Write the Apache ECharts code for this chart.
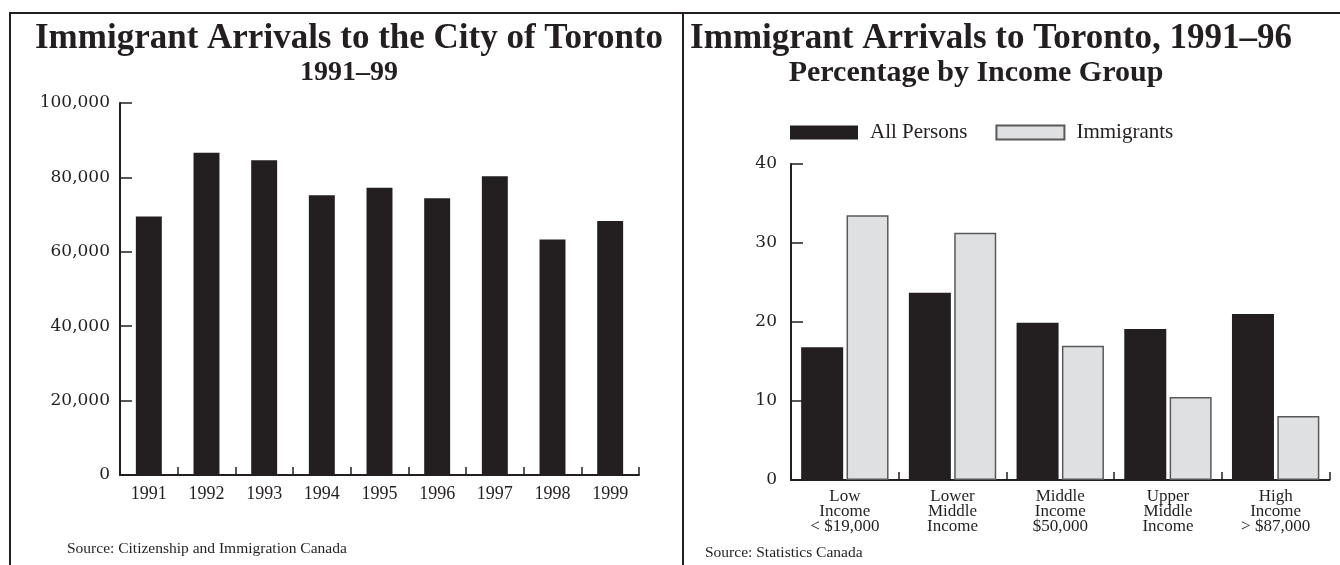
<!DOCTYPE html>
<html>
<head>
<meta charset="utf-8">
<script src="https://cdn.jsdelivr.net/npm/echarts@6/dist/echarts.min.js"></script>
<style>
html,body{margin:0;padding:0;background:#fff;}
#c{width:1340px;height:565px;}
</style>
</head>
<body>
<div id="c"></div>
<script>
// Left chart data
const years = ['1991','1992','1993','1994','1995','1996','1997','1998','1999'];
const arrivals = [69500, 86600, 84600, 75200, 77200, 74400, 80300, 63300, 68300];
const leftTicks = {min: 0, max: 100000, interval: 20000};

// Right chart data
const incomeGroups = ['Low\nIncome\n< $19,000', 'Lower\nMiddle\nIncome', 'Middle\nIncome\n$50,000', 'Upper\nMiddle\nIncome', 'High\nIncome\n> $87,000'];
const allPersons = [16.8, 23.7, 19.9, 19.1, 21.0];
const immigrants = [33.5, 31.3, 17.0, 10.5, 8.1];
const rightTicks = {min: 0, max: 40, interval: 10};

const INK = '#231f20';
const LIGHT = '#dfe0e2';
const SERIF = '"Liberation Serif", serif';
const WIDE = '"DejaVu Serif", serif';

const chart = echarts.init(document.getElementById('c'), null, {renderer: 'canvas'});

const axisLine = {show: true, lineStyle: {color: INK, width: 2}};
const axisTickY = {show: true, inside: true, length: 12, lineStyle: {color: INK, width: 1.5}};
const axisTickX = {show: true, inside: true, length: 8, alignWithLabel: false, lineStyle: {color: INK, width: 1.5}};

chart.setOption({
  animation: false,
  backgroundColor: '#fff',
  title: [
    {text: 'Immigrant Arrivals to the City of Toronto', left: 349, top: 21, padding: 0, textAlign: 'center',
     textStyle: {fontFamily: SERIF, fontWeight: 'bold', fontSize: 35, color: INK}},
    {text: '1991–99', left: 349, top: 59, padding: 0, textAlign: 'center',
     textStyle: {fontFamily: SERIF, fontWeight: 'bold', fontSize: 28, color: INK}},
    {text: 'Immigrant Arrivals to Toronto, 1991–96', left: 991, top: 21, padding: 0, textAlign: 'center',
     textStyle: {fontFamily: SERIF, fontWeight: 'bold', fontSize: 35, color: INK}},
    {text: 'Percentage by Income Group', left: 976, top: 58, padding: 0, textAlign: 'center',
     textStyle: {fontFamily: SERIF, fontWeight: 'bold', fontSize: 30, color: INK}},
    {text: 'Source: Citizenship and Immigration Canada', left: 67, top: 541, padding: 0,
     textStyle: {fontFamily: SERIF, fontWeight: 'normal', fontSize: 15.5, color: INK}},
    {text: 'Source: Statistics Canada', left: 705, top: 545, padding: 0,
     textStyle: {fontFamily: SERIF, fontWeight: 'normal', fontSize: 15.5, color: INK}}
  ],
  legend: {
    data: ['All Persons', 'Immigrants'],
    left: 790, top: 122, padding: 0,
    itemWidth: 68, itemHeight: 14, itemGap: 28,
    icon: 'rect',
    selectedMode: false,
    textStyle: {fontFamily: SERIF, fontSize: 21, color: INK, padding: [0, 0, 0, 7]}
  },
  grid: [
    {left: 120, right: 701, top: 103, bottom: 90},
    {left: 791, right: 10.5, top: 164, bottom: 85}
  ],
  xAxis: [
    {type: 'category', gridIndex: 0, data: years,
     axisLine: axisLine, axisTick: axisTickX,
     axisLabel: {fontFamily: SERIF, fontSize: 18, color: INK, margin: 10}},
    {type: 'category', gridIndex: 1, data: incomeGroups,
     axisLine: axisLine, axisTick: axisTickX,
     axisLabel: {fontFamily: SERIF, fontSize: 17, lineHeight: 15, color: INK, margin: 9, interval: 0}}
  ],
  yAxis: [
    {type: 'value', gridIndex: 0, min: leftTicks.min, max: leftTicks.max, interval: leftTicks.interval,
     axisLine: axisLine, axisTick: axisTickY, splitLine: {show: false},
     axisLabel: {fontFamily: WIDE, fontSize: 17, color: INK, margin: 10,
       formatter: v => v.toLocaleString('en-US')}},
    {type: 'value', gridIndex: 1, min: rightTicks.min, max: rightTicks.max, interval: rightTicks.interval,
     axisLine: axisLine, axisTick: axisTickY, splitLine: {show: false},
     axisLabel: {fontFamily: WIDE, fontSize: 17, color: INK, margin: 14}}
  ],
  series: [
    {name: 'Arrivals', type: 'bar', xAxisIndex: 0, yAxisIndex: 0, data: arrivals,
     barWidth: '45%', itemStyle: {color: INK}},
    {name: 'All Persons', type: 'bar', xAxisIndex: 1, yAxisIndex: 1, data: allPersons,
     barWidth: '39%', barGap: '8%', itemStyle: {color: INK}},
    {name: 'Immigrants', type: 'bar', xAxisIndex: 1, yAxisIndex: 1, data: immigrants,
     barWidth: '39%', barGap: '8%', itemStyle: {color: LIGHT, borderColor: '#58595b', borderWidth: 1.5}}
  ],
  graphic: [
    {type: 'line', shape: {x1: 9, y1: 13, x2: 1340, y2: 13}, style: {stroke: INK, lineWidth: 2}},
    {type: 'line', shape: {x1: 10, y1: 13, x2: 10, y2: 565}, style: {stroke: INK, lineWidth: 2}},
    {type: 'line', shape: {x1: 683, y1: 13, x2: 683, y2: 565}, style: {stroke: INK, lineWidth: 2}}
  ]
});
</script>
</body>
</html>
